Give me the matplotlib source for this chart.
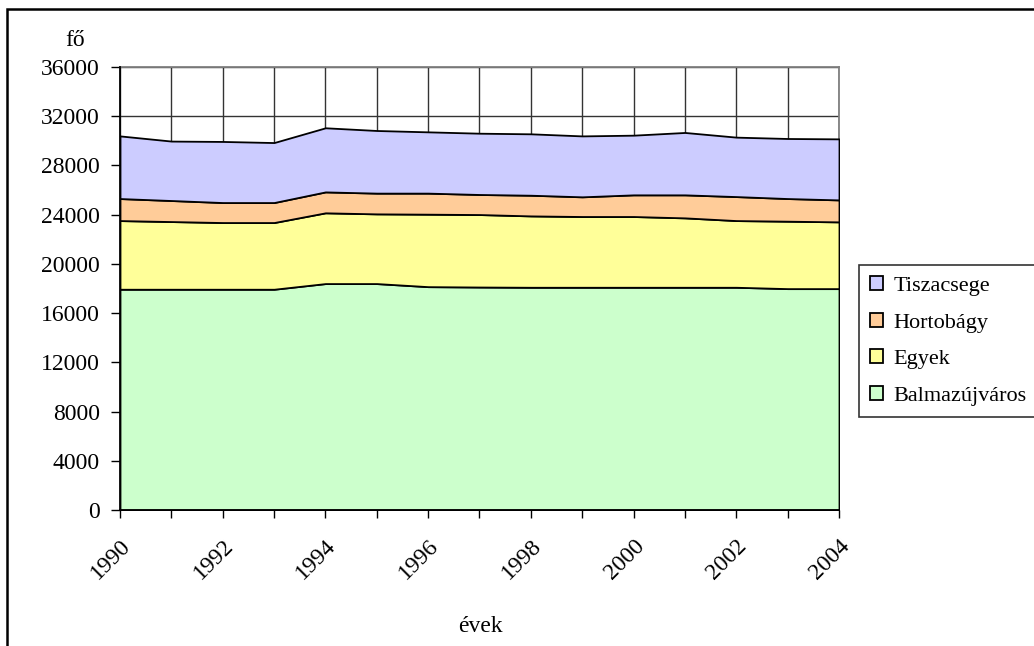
import matplotlib
matplotlib.use("Agg")
import matplotlib.pyplot as plt
from matplotlib.patches import Rectangle
import numpy as np

years = [1990, 1991, 1992, 1993, 1994, 1995, 1996, 1997, 1998, 1999, 2000, 2001, 2002, 2003, 2004]
balmazujvaros = [17940, 17940, 17940, 17940, 18400, 18400, 18150, 18120, 18100, 18100, 18100, 18100, 18100, 17990, 17990]
egyek = [5580, 5500, 5420, 5420, 5750, 5665, 5890, 5890, 5800, 5750, 5750, 5640, 5420, 5480, 5425]
hortobagy = [1790, 1710, 1625, 1625, 1700, 1685, 1710, 1630, 1680, 1600, 1760, 1870, 1950, 1840, 1785]
tiszacsege = [5090, 4830, 4965, 4875, 5210, 5090, 4980, 4980, 4990, 4950, 4850, 5070, 4830, 4880, 4960]

series_names = ["Balmazújváros", "Egyek", "Hortobágy", "Tiszacsege"]
series_vals = [balmazujvaros, egyek, hortobagy, tiszacsege]
colors = ["#CCFFCC", "#FFFF99", "#FFCC99", "#CCCCFF"]
y_ticks = list(range(0, 36001, 4000))
x_labels = [str(y) if y % 2 == 0 else "" for y in years]

FONT = "Liberation Serif"
FS = 17
LFS = 16
plt.rcParams["font.family"] = [FONT, "DejaVu Serif"]

W, H = 1034, 646
fig = plt.figure(figsize=(W / 100, H / 100), dpi=100)
ax = fig.add_axes([120 / W, 1 - 510 / H, 719 / W, 443 / H])

x = np.array(years)
base = np.zeros(len(years))
handles = []
for name, vals, col in zip(series_names, series_vals, colors):
    top = base + np.array(vals)
    h = ax.fill_between(x, base, top, facecolor=col, edgecolor="black",
                        linewidth=1.3, zorder=3, label=name)
    handles.append(h)
    base = top

ax.set_xlim(1990, 2004)
ax.set_ylim(0, 36000)
ax.set_yticks(y_ticks)
ax.set_yticklabels([str(v) for v in y_ticks], fontsize=FS)
ax.set_xticks(years)
ax.set_xticklabels(x_labels, fontsize=FS, rotation=45, ha="right",
                   va="top", rotation_mode="anchor")
ax.tick_params(axis="y", direction="out", length=6.5, width=1, pad=8, color="black")
ax.tick_params(axis="x", direction="out", length=6, width=1, pad=12, color="black")

ax.grid(True, color="#333333", linewidth=1.0, zorder=0)
ax.set_axisbelow(True)
for s in ["top", "right"]:
    ax.spines[s].set_color("#808080")
    ax.spines[s].set_linewidth(1.3)
for s in ["left", "bottom"]:
    ax.spines[s].set_color("black")
    ax.spines[s].set_linewidth(1.3)
    ax.spines[s].set_zorder(5)

fig.text(75 / W, 1 - 40 / H, "fő", ha="center", va="center", fontsize=FS)
fig.text(480 / W, 1 - 627 / H, "évek", ha="center", va="center", fontsize=FS)

leg = fig.legend(handles[::-1], series_names[::-1], loc="upper left",
                 bbox_to_anchor=(859 / W, 1 - 265 / H), borderaxespad=0,
                 frameon=True, fancybox=False, edgecolor="black",
                 fontsize=LFS, handlelength=0.6, handleheight=0.6,
                 handletextpad=0.45, labelspacing=0.75, borderpad=0.5)
leg.get_frame().set_linewidth(1.2)

fig.add_artist(Rectangle((7 / W, -0.1), 1.2, 1 - 9 / H + 0.1,
                         transform=fig.transFigure, fill=False,
                         edgecolor="black", linewidth=1.8))

fig.savefig("out.png", dpi=100)
